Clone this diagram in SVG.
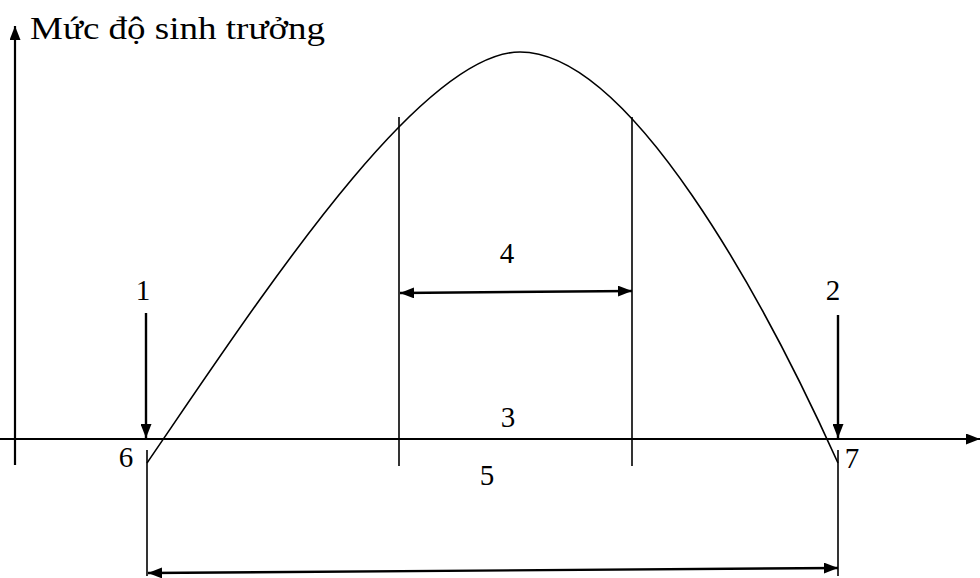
<svg xmlns="http://www.w3.org/2000/svg" width="980" height="578" viewBox="0 0 980 578">
<style>
.ln{stroke:#000;fill:none;stroke-width:1.6}
.ax{stroke:#000;fill:none;stroke-width:2.2}
.ar{stroke:#000;fill:none;stroke-width:2.4}
.t{fill:#000}
</style>
<defs>
<marker id="ah" viewBox="0 0 14 11" refX="14" refY="5.5" markerWidth="14" markerHeight="11" markerUnits="userSpaceOnUse" orient="auto-start-reverse">
<path d="M0,0 L14,5.5 L0,11 Z" fill="#000"/>
</marker>
</defs>
<g id="connectors">
<line id="y-axis" class="ax" x1="15" y1="465" x2="15" y2="26" marker-end="url(#ah)"/>
<line id="x-axis" class="ax" x1="0" y1="439" x2="980" y2="439" marker-end="url(#ah)"/>
<path id="curve" class="ln" d="M147,463 C260,298 420,52 520,52 C630,52 764,299 838,463"/>
<line class="ln" x1="399" y1="117" x2="399" y2="466"/>
<line class="ln" x1="632" y1="117" x2="632" y2="466"/>
<line class="ln" x1="147" y1="450" x2="147" y2="576"/>
<line class="ln" x1="838" y1="450" x2="838" y2="576"/>
<line id="arrow1" class="ar" x1="146" y1="313" x2="146" y2="438" marker-end="url(#ah)"/>
<line id="arrow2" class="ar" x1="838" y1="315" x2="838" y2="438" marker-end="url(#ah)"/>
<line id="arrow4" class="ar" x1="400" y1="293" x2="632" y2="291" marker-start="url(#ah)" marker-end="url(#ah)"/>
<line id="arrow5" class="ar" x1="148" y1="573" x2="838" y2="568" marker-start="url(#ah)" marker-end="url(#ah)"/>
</g>
<g id="title"><text class="t" x="30" y="39" font-family="Liberation Serif, serif" font-size="31" textLength="295" lengthAdjust="spacingAndGlyphs">Mức độ sinh trưởng</text></g>
<g id="n1"><text class="t" x="143" y="300" font-family="Liberation Serif, serif" font-size="29" text-anchor="middle">1</text></g>
<g id="n2"><text class="t" x="833" y="300" font-family="Liberation Serif, serif" font-size="29" text-anchor="middle">2</text></g>
<g id="n3"><text class="t" x="508" y="427" font-family="Liberation Serif, serif" font-size="29" text-anchor="middle">3</text></g>
<g id="n4"><text class="t" x="507" y="263" font-family="Liberation Serif, serif" font-size="29" text-anchor="middle">4</text></g>
<g id="n5"><text class="t" x="487" y="485" font-family="Liberation Serif, serif" font-size="29" text-anchor="middle">5</text></g>
<g id="n6"><text class="t" x="126" y="467" font-family="Liberation Serif, serif" font-size="29" text-anchor="middle">6</text></g>
<g id="n7"><text class="t" x="852" y="468" font-family="Liberation Serif, serif" font-size="29" text-anchor="middle">7</text></g>
</svg>
